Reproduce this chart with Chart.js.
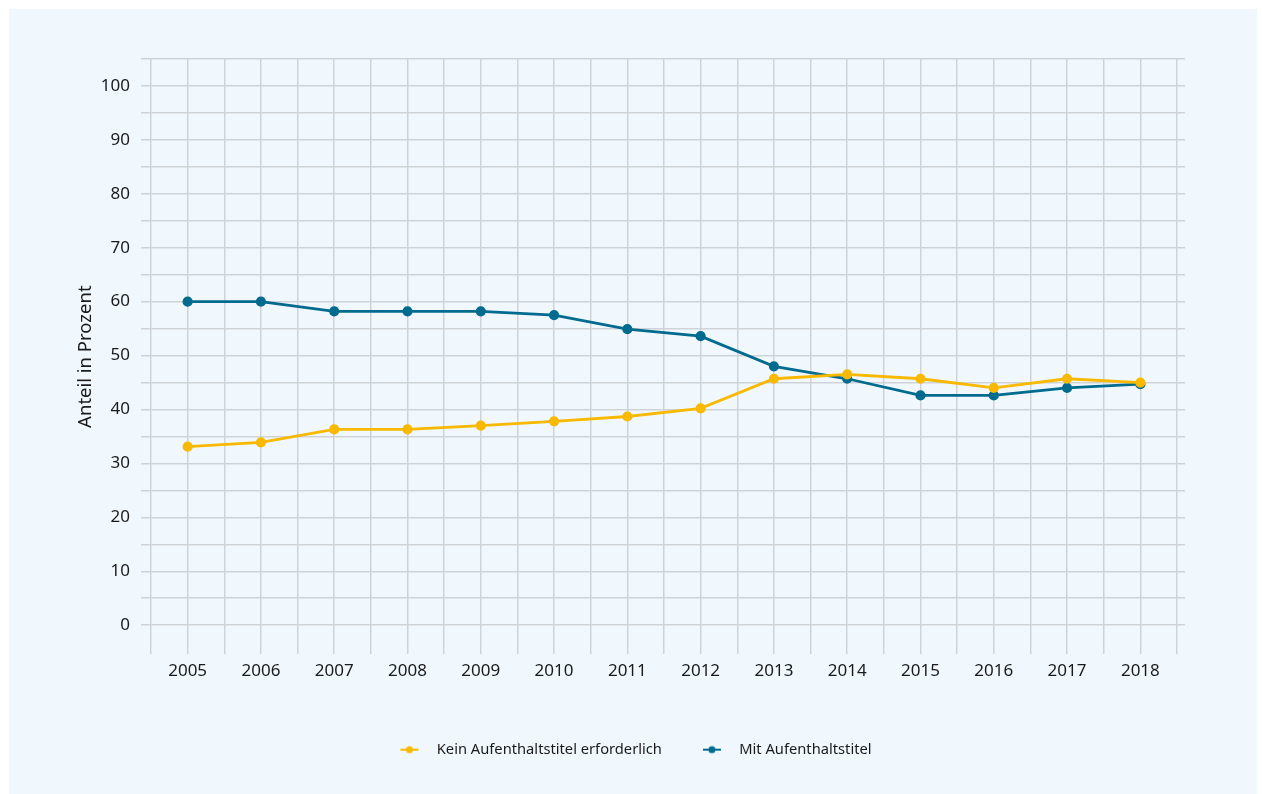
<!DOCTYPE html>
<html>
<head>
<meta charset="utf-8">
<script src="https://cdn.jsdelivr.net/npm/chart.js@4.4.0/dist/chart.umd.min.js"></script>
<style>
  html, body { margin: 0; padding: 0; background: #ffffff; }
  #box { position: absolute; left: 9px; top: 9px; width: 1248px; height: 785px; background: #f0f8fd; }
</style>
</head>
<body>
<div id="box"><canvas id="chart" width="1248" height="785"></canvas></div>
<script>
// Daten
var jahre = [2005, 2006, 2007, 2008, 2009, 2010, 2011, 2012, 2013, 2014, 2015, 2016, 2017, 2018];
var keinTitel = [33.1, 33.9, 36.3, 36.3, 37.0, 37.8, 38.7, 40.2, 45.7, 46.5, 45.7, 44.0, 45.7, 45.0];
var mitTitel = [60.0, 60.0, 58.2, 58.2, 58.2, 57.5, 54.9, 53.6, 48.0, 45.7, 42.6, 42.6, 44.0, 44.7];
var yTicks = [0, 10, 20, 30, 40, 50, 60, 70, 80, 90, 100];

var gelb = "#f9b900";
var blau = "#006b8e";
var gitter = "#cfd3d6";
var schrift = "'Noto Sans', sans-serif";

function punkte(werte) {
  return jahre.map(function (j, i) { return { x: j, y: werte[i] }; });
}

// Legendensymbol: Linie mit Punkt (rechts etwas Luft bis zum Text)
function symbol(farbe) {
  var c = document.createElement("canvas");
  c.width = 30; c.height = 10;
  var g = c.getContext("2d");
  g.strokeStyle = farbe; g.lineWidth = 2;
  g.beginPath(); g.moveTo(1, 5); g.lineTo(19, 5); g.stroke();
  g.fillStyle = farbe;
  g.beginPath(); g.arc(10, 5, 3.5, 0, Math.PI * 2); g.fill();
  return c;
}

var ctx = document.getElementById("chart").getContext("2d");

new Chart(ctx, {
  type: "line",
  data: {
    datasets: [
      {
        label: "Kein Aufenthaltstitel erforderlich",
        data: punkte(keinTitel),
        borderColor: gelb,
        backgroundColor: gelb,
        borderWidth: 2.8,
        pointRadius: 3.7,
      },
      {
        label: "Mit Aufenthaltstitel",
        data: punkte(mitTitel),
        borderColor: blau,
        backgroundColor: blau,
        borderWidth: 2.8,
        pointRadius: 3.7,
      },
    ],
  },
  options: {
    responsive: false,
    animation: false,
    layout: { padding: { top: 50, right: 57, bottom: 27, left: 62 } },
    elements: { point: { pointStyle: "circle" } },
    plugins: {
      tooltip: { enabled: false },
      legend: {
        position: "bottom",
        labels: {
          usePointStyle: true,
          pointStyleWidth: 30,
          padding: 40,
          color: "#1a1a1a",
          font: { family: schrift, size: 14.7 },
          generateLabels: function (chart) {
            return chart.data.datasets.map(function (ds, i) {
              return {
                text: ds.label,
                pointStyle: symbol(ds.borderColor),
                fillStyle: ds.borderColor,
                strokeStyle: ds.borderColor,
                lineWidth: 0,
                datasetIndex: i,
                fontColor: "#1a1a1a",
              };
            });
          },
        },
      },
    },
    scales: {
      x: {
        type: "linear",
        min: 2004.5,
        max: 2018.5,
        border: { display: false },
        grid: { color: gitter, lineWidth: 1.5, drawTicks: false },
        ticks: {
          stepSize: 0.5,
          autoSkip: false,
          maxRotation: 0,
          padding: 7,
          color: "#1a1a1a",
          font: { family: schrift, size: 17 },
          callback: function (v) { return Number.isInteger(v) ? String(v) : ""; },
        },
        afterFit: function (s) { s.height = 48; },
      },
      y: {
        min: -5.4,
        max: 105,
        border: { display: false },
        grid: {
          lineWidth: 1.5,
          tickLength: 10,
          color: function (c) { return c.tick && c.tick.value < 0 ? "rgba(0,0,0,0)" : gitter; },
        },
        ticks: {
          stepSize: 5,
          padding: 11,
          color: "#1a1a1a",
          font: { family: schrift, size: 17 },
          callback: function (v) { return yTicks.indexOf(v) >= 0 ? String(v) : ""; },
        },
        title: {
          display: true,
          text: "Anteil in Prozent",
          color: "#1a1a1a",
          font: { family: schrift, size: 18.5 },
        },
        afterFit: function (s) { s.width = 80; },
      },
      y2: {
        position: "right",
        min: -5.4,
        max: 105,
        border: { display: false },
        grid: {
          drawOnChartArea: false,
          lineWidth: 1.5,
          tickLength: 8,
          color: function (c) { return c.tick && c.tick.value < 0 ? "rgba(0,0,0,0)" : gitter; },
        },
        ticks: { stepSize: 5, display: false },
        afterFit: function (s) { s.width = 23; },
      },
    },
  },
});
</script>
</body>
</html>
